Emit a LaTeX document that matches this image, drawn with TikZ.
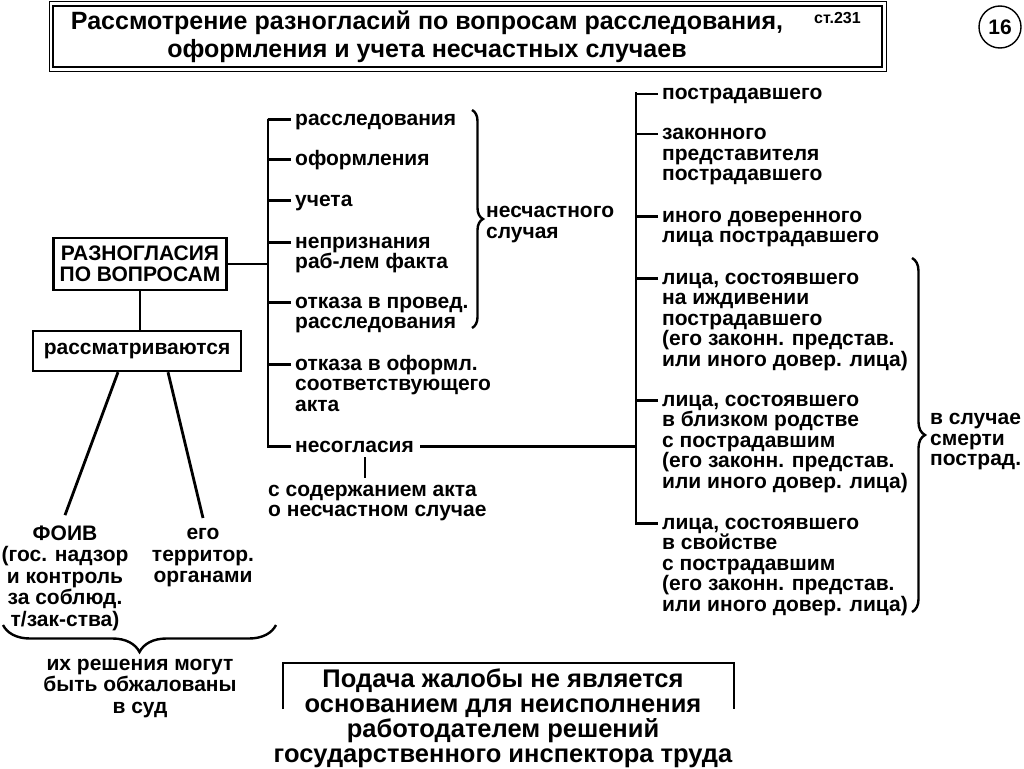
\documentclass[tikz,border=0pt]{standalone}
\usepackage{fontspec}
\setmainfont{Liberation Sans}
\usetikzlibrary{positioning, calc, decorations.pathreplacing}

% lines stacked with the first baseline as the node's baseline
\newcommand\lns[1]{\vtop{\let\\\cr\halign{##\hfil\cr#1\crcr}}}
\newcommand\clns[1]{\vtop{\let\\\cr\halign{\hfil##\hfil\cr#1\crcr}}}

\tikzset{
  txt/.style={anchor=base west, inner sep=0pt, font=\bfseries\fontsize{21}{20.6}\selectfont},
  ctxt/.style={anchor=base, inner sep=0pt, font=\bfseries\fontsize{21}{21.5}\selectfont},
  box/.style={draw, line width=2.4pt, align=center, font=\bfseries\fontsize{21}{21}\selectfont},
  ln/.style={line width=2.8pt},
  brc/.style={decorate, decoration={brace, amplitude=#1}, line width=2.4pt},
}

\begin{document}
\begin{tikzpicture}[x=1pt, y=-1pt]
        \useasboundingbox (0,0) rectangle (1024,768);

        % title
        \draw[line width=1pt] (49,2) rectangle (886,71);
        \draw[line width=2pt] (53,6) rectangle (882,67);
        \node[anchor=base, inner sep=0pt, font=\bfseries\fontsize{25}{28}\selectfont] (title) at (427,29.5)
            {\clns{Рассмотрение разногласий по вопросам расследования,\\оформления и учета несчастных случаев}};
        \node[anchor=base west, inner sep=0pt, font=\bfseries\fontsize{16}{18}\selectfont] (st) at (814,24) {ст.231};
        \node[draw, circle, line width=1.4pt, minimum size=42pt, inner sep=0pt, font=\bfseries\fontsize{21}{22}\selectfont] (num) at (1000,27) {16};

        % left part
        \node[box, minimum width=173pt, minimum height=52pt] (razn) at (140,264) {РАЗНОГЛАСИЯ\\ПО ВОПРОСАМ};
        \node[box, minimum width=208pt, minimum height=40pt] (rass) at (137,351) {рассматриваются};
        \draw[ln] (razn.south) -- (razn.south |- rass.north);

        \node[ctxt] (foiv) at (65,540) {\clns{ФОИВ\\(гос. надзор\\и контроль\\за соблюд.\\т/зак-ства)}};
        \node[ctxt] (terr) at (203,539.5) {\clns{его\\территор.\\органами}};
        \draw[ln] ([xshift=-19pt]rass.south) -- ([yshift=10pt]foiv.north);
        \draw[ln] ([xshift=31pt]rass.south) -- ([yshift=10pt]terr.north);
        \draw[brc=27pt] (276,625) -- (3,625);
        \node[ctxt] (sud) at (140,670) {\clns{их решения могут\\быть обжалованы\\в суд}};

        % kinds of disagreements
        \coordinate (ltr) at (268,119);
        \node[txt] (l1) at (295,125) {расследования};
        \node[txt] (l2) at (295,165) {оформления};
        \node[txt] (l3) at (295,206) {учета};
        \node[txt] (l4) at (295,248) {\lns{непризнания\\раб-лем факта}};
        \node[txt] (l5) at (295,308) {\lns{отказа в провед.\\расследования}};
        \node[txt] (l6) at (295,370) {\lns{отказа в оформл.\\соответствующего\\акта}};
        \node[txt] (l7) at (295,452) {несогласия};
        \draw[ln] ([xshift=-4pt,yshift=5.5pt]l1.base west) -| (ltr) |- ([xshift=-4pt,yshift=5.5pt]l7.base west);
        \foreach \n in {l2,l3,l4,l5,l6}
            \draw[ln] ([xshift=-4pt,yshift=5.5pt]\n.base west) -- ([yshift=5.5pt]\n.base west -| ltr);
        \draw[ln] (razn.east) -- (razn.east -| ltr);

        \draw[brc=11pt] (472,110) -- (472,328);
        \node[txt] (nes) at (486,217.5) {\lns{несчастного\\случая}};

        \node[txt] (sod) at (268,496) {\lns{с содержанием акта\\о несчастном случае}};
        \coordinate (tk) at (365,0);
        \draw[line width=2.4pt] ([yshift=-5pt]l7.base -| tk) -- ([yshift=18pt]sod.base -| tk);

        % who may disagree
        \coordinate (rtr) at (636,92);
        \node[txt] (r1) at (662,99.5) {пострадавшего};
        \node[txt] (r2) at (662,139.5) {\lns{законного\\представителя\\пострадавшего}};
        \node[txt] (r3) at (662,222) {\lns{иного доверенного\\лица пострадавшего}};
        \node[txt] (r4) at (662,284) {\lns{лица, состоявшего\\на иждивении\\пострадавшего\\(его законн. представ.\\или иного довер. лица)}};
        \node[txt] (r5) at (662,406) {\lns{лица, состоявшего\\в близком родстве\\с пострадавшим\\(его законн. представ.\\или иного довер. лица)}};
        \node[txt] (r6) at (662,529) {\lns{лица, состоявшего\\в свойстве\\с пострадавшим\\(его законн. представ.\\или иного довер. лица)}};
        \draw[ln] ([xshift=-4pt,yshift=5.5pt]r1.base west) -| (rtr) |- ([xshift=-4pt,yshift=5.5pt]r6.base west);
        \foreach \n in {r2,r3,r4,r5}
            \draw[ln] ([xshift=-4pt,yshift=5.5pt]\n.base west) -- ([yshift=5.5pt]\n.base west -| rtr);
        \draw[ln] ([xshift=6pt,yshift=5.5pt]l7.base east) -- ([yshift=5.5pt]l7.base east -| rtr);

        \draw[brc=13pt] (912,258) -- (912,612);
        \node[txt] (smert) at (930,424.5) {\lns{в случае\\смерти\\пострад.}};

        % bottom note
        \draw[line width=2.4pt] (283,709) -- (283,663) -- (734,663) -- (734,709);
        \node[anchor=base, inner sep=0pt, font=\bfseries\fontsize{25.5}{25}\selectfont] (note) at (503,687)
            {\clns{Подача жалобы не является\\основанием для неисполнения\\работодателем решений\\государственного инспектора труда}};
\end{tikzpicture}
\end{document}
